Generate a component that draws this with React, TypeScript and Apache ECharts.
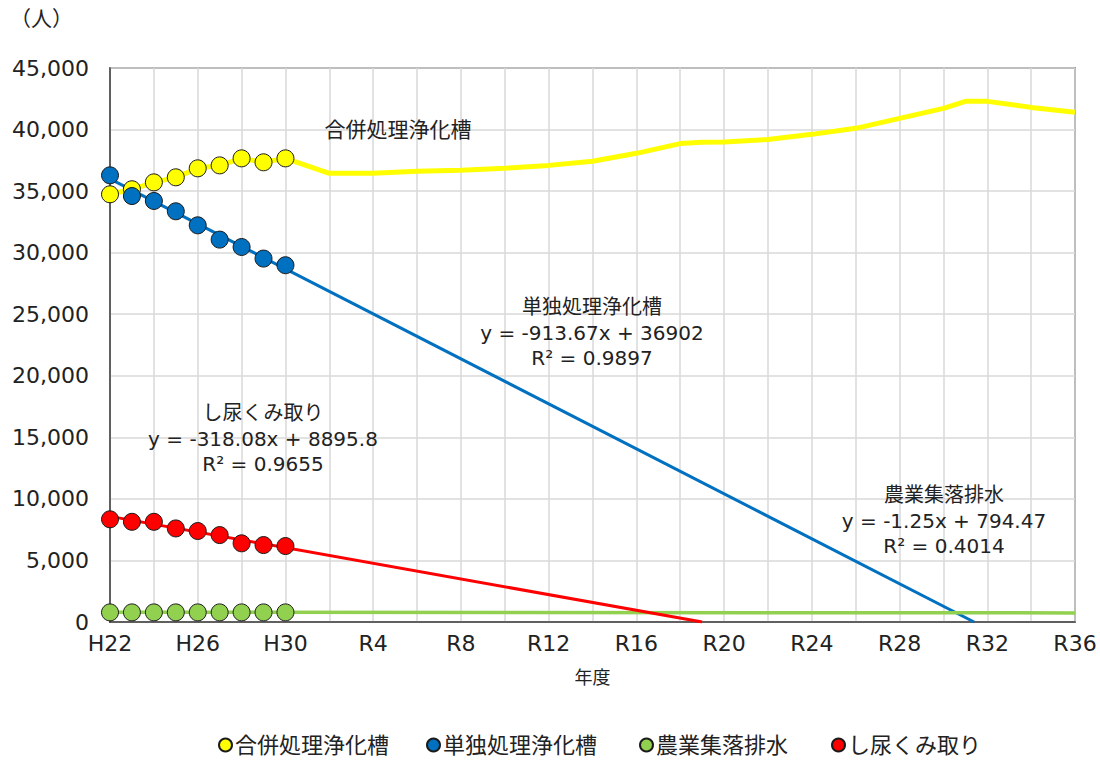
import React, { useEffect, useRef } from "react";
import * as echarts from "echarts";

const categories: string[] = [
  "H22", "H23", "H24", "H25", "H26", "H27", "H28", "H29", "H30",
  "R1", "R2", "R3", "R4", "R5", "R6", "R7", "R8", "R9", "R10", "R11", "R12",
  "R13", "R14", "R15", "R16", "R17", "R18", "R19", "R20", "R21", "R22", "R23", "R24",
  "R25", "R26", "R27", "R28", "R29", "R30", "R31", "R32", "R33", "R34", "R35", "R36",
];

const seriesNames = ["合併処理浄化槽", "単独処理浄化槽", "農業集落排水", "し尿くみ取り"];
const seriesColors = ["#FFFF00", "#0070C0", "#92D050", "#FF0000"];

// actual values H22–H30 (index 0–8)
const gappeiActual = [34740, 35150, 35710, 36120, 36850, 37090, 37660, 37340, 37660];
const tandokuActual = [36280, 34600, 34200, 33360, 32220, 31060, 30460, 29520, 28980];
const nogyoActual = [780, 780, 780, 780, 780, 780, 780, 780, 780];
const shinyoActual = [8340, 8140, 8140, 7600, 7390, 7060, 6390, 6250, 6170];

// projection of 合併処理浄化槽: [category index, value]
const gappeiProjection: [number, number][] = [
  [10, 36450], [12, 36450], [14, 36610], [16, 36690], [18, 36850], [20, 37090],
  [22, 37420], [24, 38070], [26, 38860], [27, 38960], [28, 38990], [30, 39200],
  [32, 39610], [34, 40100], [36, 40910], [38, 41720], [39, 42290], [40, 42290],
  [42, 41800], [44, 41400],
];

// trend line end points: [category index, value]
const tandokuTrend: [number, number][] = [[0, 35990], [39.4, 0]];
const shinyoTrend: [number, number][] = [[0, 8578], [27, 0]];
const nogyoTrend: [number, number][] = [[0, 793], [44, 739]];

const yTicks = { min: 0, max: 45000, interval: 5000 };

const annotations = [
  { lines: ["合併処理浄化槽"], x: 398, y: 130, size: 21 },
  { lines: ["単独処理浄化槽", "y = -913.67x + 36902", "R² = 0.9897"], x: 592, y: 307, size: 20 },
  { lines: ["し尿くみ取り", "y = -318.08x + 8895.8", "R² = 0.9655"], x: 263, y: 413, size: 20 },
  { lines: ["農業集落排水", "y = -1.25x + 794.47", "R² = 0.4014"], x: 944, y: 495, size: 20 },
];

const legendLefts = [218, 426, 639, 831];

const FONT = '"DejaVu Sans", "Noto Sans CJK JP", sans-serif';

export default function App() {
  const ref = useRef<HTMLDivElement>(null);
  useEffect(() => {
    if (!ref.current) return;
    const chart = echarts.init(ref.current, undefined, { renderer: "svg" });

    const actuals = [gappeiActual, tandokuActual, nogyoActual, shinyoActual];
    const withIdx = (arr: number[]) => arr.map((v, i) => [i, v]);

    const lineSeries: any[] = [
      {
        name: "合併処理浄化槽 推移",
        type: "line",
        data: [...withIdx(gappeiActual), ...gappeiProjection],
        symbol: "none",
        lineStyle: { color: seriesColors[0], width: 5 },
        z: 1,
      },
      {
        name: "単独処理浄化槽 近似",
        type: "line",
        data: tandokuTrend,
        symbol: "none",
        lineStyle: { color: seriesColors[1], width: 3 },
        z: 1,
      },
      {
        name: "農業集落排水 近似",
        type: "line",
        data: nogyoTrend,
        symbol: "none",
        lineStyle: { color: seriesColors[2], width: 3.5 },
        z: 1,
      },
      {
        name: "し尿くみ取り 近似",
        type: "line",
        data: shinyoTrend,
        symbol: "none",
        lineStyle: { color: seriesColors[3], width: 3 },
        z: 1,
      },
    ];

    const scatterSeries = seriesNames.map((name, k) => ({
      name,
      type: "scatter",
      data: withIdx(actuals[k]),
      symbol: "circle",
      symbolSize: 17,
      itemStyle: { color: seriesColors[k], borderColor: "#1a1a1a", borderWidth: 1, opacity: 1 },
      z: 3,
    }));

    const graphics: any[] = [
      {
        type: "text",
        x: 10,
        y: 19,
        style: {
          text: "（人）",
          font: `21px ${FONT}`,
          fill: "#222",
          textVerticalAlign: "middle",
        },
      },
    ];
    annotations.forEach((a) => {
      a.lines.forEach((t, i) => {
        graphics.push({
          type: "text",
          x: a.x,
          y: a.y + i * 25.5,
          style: {
            text: t,
            font: `${i === 0 ? a.size : 20}px ${FONT}`,
            fill: "#222",
            textAlign: "center",
            textVerticalAlign: "middle",
          },
          z: 10,
        });
      });
    });

    const legends = seriesNames.map((name, k) => ({
      data: [name],
      left: legendLefts[k],
      top: 734,
      padding: 0,
      icon: "circle",
      itemWidth: 13,
      itemHeight: 13,
      itemGap: 4,
      textStyle: { fontSize: 22, color: "#222", fontFamily: FONT, padding: [0, 0, 0, -2] },
    }));

    chart.setOption({
      animation: false,
      backgroundColor: "#fff",
      textStyle: { fontFamily: FONT },
      grid: {
        left: 110,
        right: 25,
        top: 68,
        bottom: 138,
        show: true,
        borderColor: "#404040",
        borderWidth: 1.5,
      },
      legend: legends,
      xAxis: {
        type: "value",
        min: 0,
        max: categories.length - 1,
        interval: 2,
        name: "年度",
        nameLocation: "middle",
        nameGap: 46,
        nameTextStyle: { fontSize: 18, color: "#222", fontFamily: FONT },
        axisLine: { show: true, lineStyle: { color: "#404040", width: 1.5 } },
        axisTick: { show: false },
        axisLabel: {
          fontSize: 22,
          color: "#222",
          margin: 10,
          formatter: (v: number) => (v % 4 === 0 ? categories[v] : ""),
        },
        splitLine: { show: true, lineStyle: { color: "#d9d9d9", width: 1.5 } },
      },
      yAxis: {
        type: "value",
        min: yTicks.min,
        max: yTicks.max,
        interval: yTicks.interval,
        axisLine: { show: true, lineStyle: { color: "#404040", width: 1.5 } },
        axisTick: { show: false },
        axisLabel: {
          fontSize: 22,
          color: "#222",
          margin: 21,
          formatter: (v: number) => v.toLocaleString("en-US"),
        },
        splitLine: { show: true, lineStyle: { color: "#d9d9d9", width: 1.5 } },
      },
      graphic: graphics,
      series: [...lineSeries, ...scatterSeries],
    });

    return () => chart.dispose();
  }, []);

  return (
    <div
      ref={ref}
      style={{ position: "absolute", left: 0, top: 0, width: 1100, height: 760 }}
    />
  );
}
